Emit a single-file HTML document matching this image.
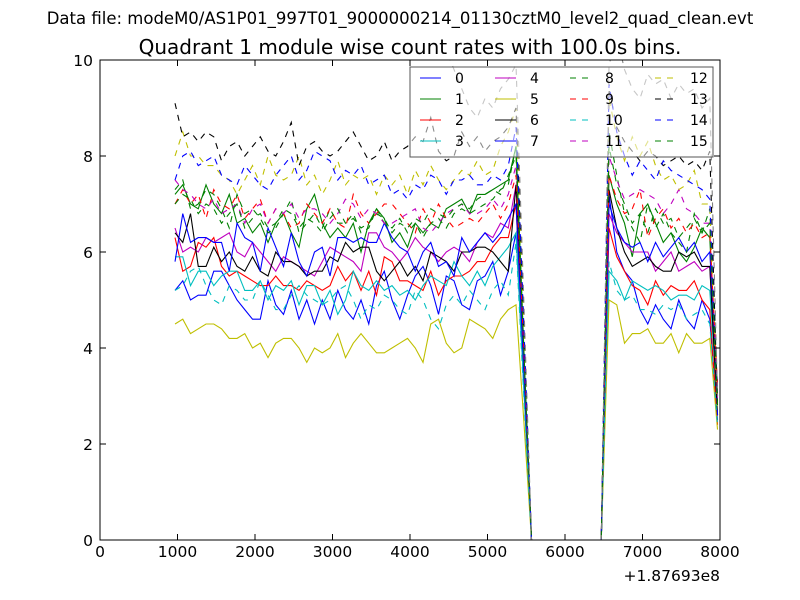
<!DOCTYPE html>
<html><head><meta charset="utf-8"><style>
body{margin:0;background:#fff}
svg{display:block;font-family:"DejaVu Sans","Liberation Sans",sans-serif}
</style></head><body>
<svg id="chart" width="800" height="600" viewBox="0 0 800 600">
<defs><clipPath id="plotclip"><rect x="100" y="60" width="620" height="480"/></clipPath></defs>
<text x="400" y="24" font-size="16.5" text-anchor="middle">Data file: modeM0/AS1P01_997T01_9000000214_01130cztM0_level2_quad_clean.evt</text>
<text x="410" y="54" font-size="20" text-anchor="middle">Quadrant 1 module wise count rates with 100.0s bins.</text>
<rect x="100" y="60" width="620" height="480" fill="#fff"/>
<g id="series" clip-path="url(#plotclip)"></g>
<g id="legend"></g>
<rect x="100" y="60" width="620" height="480" fill="none" stroke="#000" stroke-width="1"/>
<g id="axes"></g>
<text x="720" y="581" font-size="15.5" text-anchor="end">+1.87693e8</text>
</svg>
<script>
const xTicks = [0,1000,2000,3000,4000,5000,6000,7000,8000];
const yTicks = [0,2,4,6,8,10];
const tStart = 968, tStep = 100;
const Z = [0,0,0,0,0,0,0,0,0,0];
const s0 = [5.2,5.4,5.0,5.1,5.1,5.6,5.6,5.3,5.0,4.8,4.6,4.6,5.4,4.9,4.7,5.2,4.6,5.0,4.5,5.0,4.6,5.2,4.8,4.6,5.0,4.5,5.3,5.6,5.0,4.6,5.1,5.5,5.7,5.3,4.7,5.5,5.4,4.9,4.8,5.4,5.5,5.8,5.1,5.6,6.4,3.2].concat(Z,[7.2,6.0,5.6,5.4,4.8,4.5,4.9,4.6,4.4,5.0,4.6,4.4,5.0,4.6,2.5]);
const s1 = [7.2,7.4,7.0,6.9,7.4,7.0,6.8,7.2,6.6,6.7,6.4,6.6,6.2,6.6,6.8,6.4,6.1,6.9,7.2,6.6,6.3,6.5,6.3,6.6,6.0,6.6,6.9,6.7,6.2,6.4,6.1,6.6,6.4,6.6,6.5,6.9,7.0,7.1,6.8,7.2,7.2,7.3,7.4,7.5,8.2,4.0].concat(Z,[7.6,7.0,6.6,5.9,6.8,7.0,6.6,6.2,6.4,6.0,5.8,6.1,6.5,6.3,3.0]);
const s2 = [6.3,5.6,5.7,6.2,6.1,6.3,5.7,5.5,5.6,5.5,5.4,5.3,5.3,5.5,5.3,5.3,5.2,5.4,5.3,5.2,5.3,5.7,5.4,5.6,5.2,5.6,5.1,5.9,5.8,5.4,5.4,5.3,5.2,5.6,5.1,5.4,5.5,5.5,5.6,5.8,5.8,6.1,6.3,6.3,7.0,3.5].concat(Z,[6.5,5.9,5.6,5.3,5.2,4.9,5.4,5.1,5.3,5.2,5.2,5.4,5.0,4.8,2.4]);
const s3 = [5.9,5.9,5.3,5.6,5.6,5.3,5.5,5.6,5.6,5.2,5.2,5.4,5.0,5.3,5.2,5.4,4.9,5.3,5.3,4.9,5.2,4.7,5.0,5.6,5.3,5.2,5.4,5.2,5.3,5.1,5.2,5.0,5.3,5.5,5.4,5.3,5.8,5.5,5.3,5.6,5.3,5.7,5.9,6.1,6.4,3.2].concat(Z,[5.6,5.4,5.0,5.4,5.3,5.2,5.3,5.2,5.0,5.1,5.1,5.0,5.3,5.2,2.8]);
const s4 = [6.5,6.0,6.1,6.0,6.3,6.2,6.3,6.4,6.0,5.9,6.2,6.0,5.8,5.6,5.9,5.8,5.7,5.6,5.5,5.8,6.1,6.0,5.9,5.8,5.6,6.4,6.4,6.1,6.0,5.8,6.0,6.3,6.1,6.0,5.8,6.0,6.1,6.0,5.8,6.2,6.4,6.3,6.6,6.5,7.4,3.8].concat(Z,[6.8,6.4,6.2,6.0,6.0,6.0,5.6,5.8,6.0,5.6,5.7,5.8,5.6,5.7,2.9]);
const s5 = [4.5,4.6,4.3,4.4,4.5,4.5,4.4,4.2,4.2,4.3,4.0,4.1,3.8,4.1,4.2,4.2,4.0,3.7,4.0,3.9,4.0,4.3,3.8,4.1,4.3,4.1,3.9,3.9,4.0,4.1,4.2,4.0,3.7,4.5,4.6,4.1,3.9,4.0,4.6,4.5,4.4,4.2,4.6,4.8,4.9,2.5].concat(Z,[5.0,4.9,4.1,4.3,4.3,4.4,4.1,4.1,4.3,3.9,4.3,4.1,4.1,4.2,2.3]);
const s6 = [6.4,6.2,6.8,5.7,5.7,6.1,5.8,6.0,5.7,5.6,5.9,5.6,5.5,6.0,5.8,5.8,5.7,5.5,5.6,5.6,5.9,5.8,6.2,6.0,6.1,6.1,5.6,5.4,5.6,5.8,5.5,5.7,5.4,6.0,5.9,5.8,5.6,6.0,6.0,6.1,6.1,6.0,5.8,5.6,7.4,3.6].concat(Z,[7.3,6.5,6.0,5.7,5.8,5.9,5.7,5.6,5.6,6.0,5.9,6.0,5.7,5.7,2.6]);
const s7 = [5.8,6.8,6.2,6.3,6.3,6.2,6.2,5.6,6.6,6.3,6.2,5.6,6.5,6.1,5.7,6.4,5.8,5.5,6.0,6.1,5.5,6.3,6.3,6.2,6.3,6.2,6.2,6.6,6.3,6.1,6.0,5.6,6.0,6.2,5.7,5.8,5.5,6.3,6.0,6.2,6.4,6.2,6.4,6.7,7.0,3.6].concat(Z,[7.0,6.5,6.2,6.1,6.2,5.8,6.2,5.9,6.1,6.3,6.0,6.2,5.8,6.0,3.2]);
const s8 = [7.3,7.5,6.9,7.0,7.3,7.2,6.9,6.5,7.2,6.8,6.9,6.7,6.4,6.5,6.8,7.1,6.4,6.6,6.8,6.5,6.9,6.6,6.6,6.8,6.4,6.5,6.9,6.6,6.5,6.7,6.4,6.6,6.3,6.6,6.7,6.5,6.8,6.9,6.8,6.9,7.0,7.1,7.3,7.4,8.2,4.0].concat(Z,[8.5,7.6,6.8,6.5,6.2,7.0,6.5,6.8,6.4,6.2,6.0,6.8,6.4,6.9,2.7]);
const s9 = [7.0,7.3,7.0,7.2,6.7,7.3,7.0,6.9,7.2,6.7,6.9,7.1,6.6,6.9,6.8,6.5,6.6,7.0,6.8,6.6,6.9,6.6,6.5,7.2,6.8,6.6,6.8,7.0,7.0,6.8,6.6,6.4,6.9,6.6,7.0,6.7,6.5,6.6,6.7,6.6,6.8,7.0,6.7,7.0,7.6,4.0].concat(Z,[7.6,7.1,6.8,6.9,7.3,6.3,6.7,6.9,6.5,6.7,6.4,6.6,6.3,6.4,3.2]);
const s10 = [5.2,5.3,5.6,5.7,5.3,5.0,4.9,5.3,5.2,5.0,5.0,5.4,5.1,4.8,4.8,5.1,5.3,5.1,5.0,4.9,5.0,5.2,5.3,5.0,4.6,4.9,4.8,5.1,5.0,4.8,4.7,5.2,5.0,4.6,4.4,4.9,5.1,4.9,5.2,5.0,4.8,5.2,5.4,5.1,6.2,3.0].concat(Z,[5.8,5.2,5.0,5.1,4.8,4.8,4.7,4.9,4.8,4.9,4.6,4.7,4.8,4.5,2.4]);
const s11 = [7.5,7.3,7.2,7.0,6.9,7.1,6.8,6.9,7.0,6.6,6.9,7.0,6.6,6.9,6.8,7.0,6.7,6.9,6.9,6.8,6.6,6.8,7.1,7.0,6.7,6.9,6.8,6.6,6.6,6.7,6.8,6.9,6.5,6.4,6.6,6.8,6.9,7.0,6.8,6.8,6.9,7.1,6.9,7.2,7.8,4.0].concat(Z,[8.0,7.5,7.1,7.2,7.3,7.2,7.1,6.8,7.0,7.3,6.9,6.8,6.6,6.6,3.0]);
const s12 = [8.0,8.5,8.0,8.0,7.8,7.8,7.6,7.5,7.2,7.5,7.8,7.4,8.0,7.6,7.5,7.6,8.0,7.4,7.6,7.2,7.5,7.9,7.4,7.6,7.5,7.6,7.2,7.6,7.4,7.6,7.2,7.7,7.4,7.8,7.5,7.3,7.5,7.7,7.6,7.9,7.6,7.7,8.2,8.5,9.0,4.5].concat(Z,[9.2,8.4,7.9,8.4,8.0,8.3,7.8,7.5,7.6,7.3,7.4,7.7,7.0,7.0,2.6]);
const s13 = [9.1,8.4,8.5,8.3,8.5,8.4,7.9,8.2,8.3,8.0,8.2,8.4,8.1,8.0,8.3,8.7,7.8,8.2,8.3,8.1,8.0,8.1,8.3,8.5,8.2,7.9,8.0,8.3,7.9,8.1,8.2,8.4,8.3,8.8,8.1,7.9,8.0,8.5,8.2,8.4,8.1,8.3,8.4,8.6,9.0,4.5].concat(Z,[9.4,8.6,8.3,8.1,7.9,8.1,8.0,7.8,7.9,8.0,7.8,7.9,7.7,8.1,2.8]);
const s14 = [7.5,8.0,8.1,7.8,7.9,8.0,7.6,7.5,7.4,7.8,7.6,7.4,7.3,7.6,7.8,8.0,7.5,7.7,8.1,8.0,7.9,7.5,7.7,7.6,7.8,7.4,7.5,7.6,7.2,7.3,7.1,7.4,7.3,7.6,7.5,7.2,7.5,7.5,7.6,7.4,7.4,7.6,7.5,7.8,8.6,4.5].concat(Z,[9.5,8.5,8.0,7.6,7.9,7.7,7.5,7.9,7.7,7.6,7.5,7.4,7.3,7.1,2.6]);
const s15 = [7.0,7.2,7.1,6.8,7.0,6.9,6.6,6.8,7.0,6.5,6.7,6.8,6.5,6.6,6.9,6.8,6.5,6.7,6.6,6.4,6.7,6.9,6.6,6.7,6.5,6.6,6.8,6.7,6.4,6.6,6.5,6.7,6.6,6.9,6.8,6.7,6.9,7.0,6.9,7.1,7.2,7.3,7.2,7.6,8.0,4.0].concat(Z,[8.2,7.4,7.0,6.6,6.8,6.4,6.9,6.6,6.7,6.3,6.5,6.7,6.4,6.6,2.8]);
const sGray = [10.8,10.6,11,10.7,10.9,10.5,10.8,10.6,11,10.7,10.6,10.9,10.5,10.8,10.7,10.6,10.9,10.4,10.7,10.8,10.5,10.6,10.9,10.7,10.4,10.6,10.8,10.5,10.3,10.6,10.4,10.2,10.5,10.3,10.1,10.2,9.8,9.4,9.0,8.8,9.2,9.0,9.4,9.6,9.9,5.0].concat(Z,[9.9,10.5,9.8,9.4,9.2,9.7,9.5,9.6,9.2,9.5,9.3,9.4,9.0,9.2,3.0]);
const labels = ['0','1','2','3','4','5','6','7','8','9','10','11','12','13','14','15'];
const allSeries = [s0,s1,s2,s3,s4,s5,s6,s7,s8,s9,s10,s11,s12,s13,s14,s15];
const colors = ['#0000ff','#008000','#ff0000','#00bfbf','#bf00bf','#bfbf00','#000000'];

const NS = 'http://www.w3.org/2000/svg';
const X = v => 100 + v / 8000 * 620;
const Y = v => 540 - v / 10 * 480;
function mk(tag, attrs, parent){const e=document.createElementNS(NS,tag);for(const k in attrs)e.setAttribute(k,attrs[k]);parent.appendChild(e);return e;}

const sg = document.getElementById('series');
function drawLine(arr, color, dashed, name){
  const pts = arr.map((v,i)=>X(tStart+i*tStep).toFixed(2)+','+Y(v).toFixed(2)).join(' ');
  const p = mk('polyline',{points:pts,fill:'none',stroke:color,'stroke-width':1.1},sg);
  if(dashed) p.setAttribute('stroke-dasharray','6,6');
  
  
}
allSeries.forEach((arr,i)=>drawLine(arr, colors[i%7], i>=8, 'series-line-'+labels[i]));
drawLine(sGray, '#808080', true, 'series-line-extra');

const lg = document.getElementById('legend');
const box = mk('rect',{x:410,y:67,width:303,height:90,fill:'#fff','fill-opacity':0.55,stroke:'#555','stroke-width':1},lg);


const colX = [420,495,570,655], labX = [455,530,605,690], rowY = [78,99,120,141];
labels.forEach((lab,i)=>{
  const c = Math.floor(i/4), r = i%4;
  const l = mk('line',{x1:colX[c],x2:colX[c]+21,y1:rowY[r],y2:rowY[r],stroke:colors[i%7],'stroke-width':1.1},lg);
  if(i>=8) l.setAttribute('stroke-dasharray','6,6');
  
  
  const t = mk('text',{x:labX[c],y:rowY[r]+5,'font-size':14},lg);
  t.textContent = lab;
  
  
});

const ag = document.getElementById('axes');
xTicks.forEach(v=>{
  const x = X(v);
  mk('line',{x1:x,x2:x,y1:540,y2:534,stroke:'#000'},ag);
  mk('line',{x1:x,x2:x,y1:60,y2:66,stroke:'#000'},ag);
  const t = mk('text',{x:x,y:557,'font-size':15.5,'text-anchor':'middle'},ag);
  t.textContent = v;
  
  
});
yTicks.forEach(v=>{
  const y = Y(v);
  mk('line',{x1:100,x2:106,y1:y,y2:y,stroke:'#000'},ag);
  mk('line',{x1:720,x2:714,y1:y,y2:y,stroke:'#000'},ag);
  const t = mk('text',{x:93,y:y+6,'font-size':15.5,'text-anchor':'end'},ag);
  t.textContent = v;
  
  
});
</script>
</body></html>
